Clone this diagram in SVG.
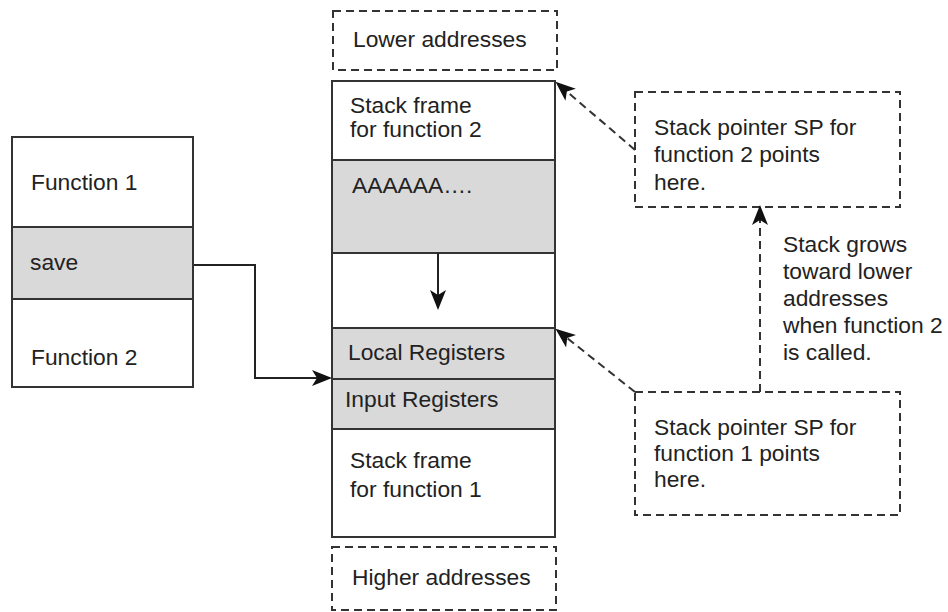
<svg xmlns="http://www.w3.org/2000/svg" width="948" height="612" viewBox="0 0 948 612">
<defs>
<style>
text{font-family:"Liberation Sans",Arial,sans-serif;font-size:22.8px;fill:#222}
.box{fill:#fff;stroke:#333;stroke-width:2}
.gray{fill:#d9d9d9;stroke:#333;stroke-width:2}
.dash{fill:none;stroke:#333;stroke-width:2;stroke-dasharray:8 5}
.line{fill:none;stroke:#222;stroke-width:2}
</style>
<marker id="ah" viewBox="0 0 20 16" refX="18" refY="8" markerWidth="20" markerHeight="16" markerUnits="userSpaceOnUse" orient="auto">
<path d="M0,0 L20,8 L0,16 L5,8 Z" fill="#111"/>
</marker>
</defs>
<rect width="948" height="612" fill="#fff"/>
<g id="left-block">
<rect class="box" x="12" y="137" width="181" height="250"/>
<rect class="gray" x="12" y="227" width="181" height="72"/>
<text x="31" y="190">Function 1</text>
<text x="30" y="270">save</text>
<text x="31" y="365">Function 2</text>
</g>
<g id="lower-addresses">
<rect class="dash" x="333" y="11" width="224" height="59"/>
<text x="353" y="47">Lower addresses</text>
</g>
<g id="stack">
<rect class="box" x="332" y="81" width="223" height="456"/>
<rect class="gray" x="332" y="160" width="223" height="93"/>
<rect class="gray" x="332" y="328" width="223" height="51"/>
<rect class="gray" x="332" y="379" width="223" height="50"/>
<text x="350" y="113">Stack frame</text>
<text x="350" y="137">for function 2</text>
<text x="352" y="193">AAAAAA….</text>
<text x="348" y="360">Local Registers</text>
<text x="345" y="407">Input Registers</text>
<text x="350" y="468">Stack frame</text>
<text x="350" y="497">for function 1</text>
</g>
<g id="higher-addresses">
<rect class="dash" x="332" y="547" width="224" height="63"/>
<text x="352" y="585">Higher addresses</text>
</g>
<g id="sp2-note">
<rect class="dash" x="635" y="92" width="265" height="115"/>
<text x="654" y="135">Stack pointer SP for</text>
<text x="654" y="162">function 2 points</text>
<text x="654" y="190">here.</text>
</g>
<g id="sp1-note">
<rect class="dash" x="635" y="392" width="265" height="123"/>
<text x="654" y="435">Stack pointer SP for</text>
<text x="654" y="461">function 1 points</text>
<text x="654" y="487">here.</text>
</g>
<g id="grow-note">
<text x="783" y="252">Stack grows</text>
<text x="783" y="279">toward lower</text>
<text x="783" y="306">addresses</text>
<text x="783" y="333">when function 2</text>
<text x="783" y="360">is called.</text>
</g>
<g id="connectors">
<path class="line" d="M194,265 H255 V378 H330" marker-end="url(#ah)"/>
<path class="line" d="M438,253 V308" marker-end="url(#ah)"/>
<path class="dash" d="M635,150 L557,83" marker-end="url(#ah)"/>
<path class="dash" d="M635,392 L557,330" marker-end="url(#ah)"/>
<path class="dash" d="M760,392 V207" marker-end="url(#ah)"/>
</g>
</svg>
